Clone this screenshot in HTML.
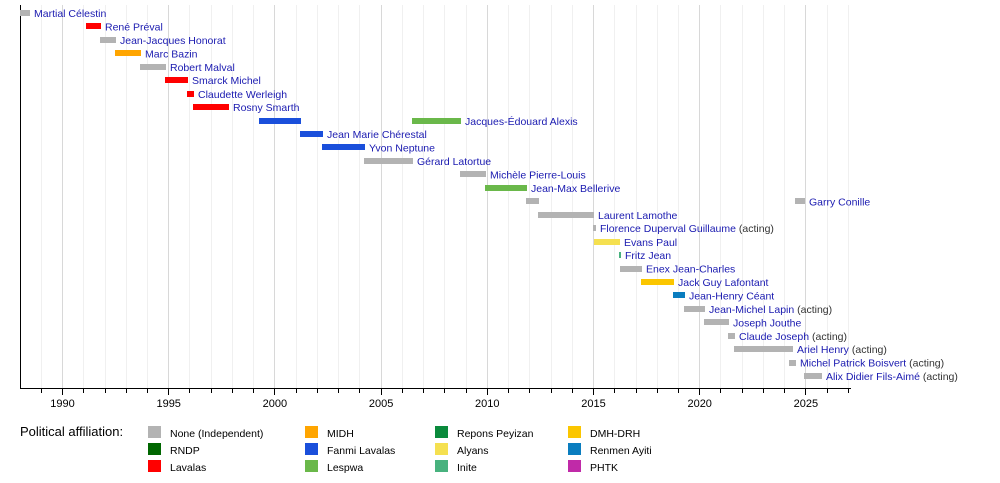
<!DOCTYPE html>
<html><head><meta charset="utf-8"><style>
body{margin:0;background:#fff;}
svg text{font-family:"Liberation Sans",sans-serif;}
</style></head><body>
<svg width="1000" height="478" xmlns="http://www.w3.org/2000/svg">
<path stroke="#f0f0f0" fill="none" d="M41.5 5V388M83.5 5V388M105.5 5V388M126.5 5V388M147.5 5V388M189.5 5V388M211.5 5V388M232.5 5V388M253.5 5V388M296.5 5V388M317.5 5V388M338.5 5V388M359.5 5V388M402.5 5V388M423.5 5V388M444.5 5V388M466.5 5V388M508.5 5V388M529.5 5V388M551.5 5V388M572.5 5V388M614.5 5V388M636.5 5V388M657.5 5V388M678.5 5V388M720.5 5V388M742.5 5V388M763.5 5V388M784.5 5V388M827.5 5V388M848.5 5V388"/>
<path stroke="#d8d8d8" fill="none" d="M62.5 5V388M168.5 5V388M274.5 5V388M381.5 5V388M487.5 5V388M593.5 5V388M699.5 5V388M805.5 5V388"/>
<path stroke="#000" fill="none" d="M41.5 389V393M83.5 389V393M105.5 389V393M126.5 389V393M147.5 389V393M189.5 389V393M211.5 389V393M232.5 389V393M253.5 389V393M296.5 389V393M317.5 389V393M338.5 389V393M359.5 389V393M402.5 389V393M423.5 389V393M444.5 389V393M466.5 389V393M508.5 389V393M529.5 389V393M551.5 389V393M572.5 389V393M614.5 389V393M636.5 389V393M657.5 389V393M678.5 389V393M720.5 389V393M742.5 389V393M763.5 389V393M784.5 389V393M827.5 389V393M848.5 389V393M62.5 389V395M168.5 389V395M274.5 389V395M381.5 389V395M487.5 389V395M593.5 389V395M699.5 389V395M805.5 389V395"/>
<line x1="20.5" y1="5" x2="20.5" y2="388" stroke="#000"/>
<line x1="20" y1="388.5" x2="851" y2="388.5" stroke="#000"/>
<g>
<rect x="20" y="10" width="10" height="6" fill="#b3b3b3"/>
<rect x="86" y="23" width="15" height="6" fill="#ff0000"/>
<rect x="100" y="37" width="16" height="6" fill="#b3b3b3"/>
<rect x="115" y="50" width="26" height="6" fill="#ffa500"/>
<rect x="140" y="64" width="26" height="6" fill="#b3b3b3"/>
<rect x="165" y="77" width="23" height="6" fill="#ff0000"/>
<rect x="187" y="91" width="7" height="6" fill="#ff0000"/>
<rect x="193" y="104" width="36" height="6" fill="#ff0000"/>
<rect x="259" y="118" width="42" height="6" fill="#1a4fdb"/>
<rect x="412" y="118" width="49" height="6" fill="#6ab84a"/>
<rect x="300" y="131" width="23" height="6" fill="#1a4fdb"/>
<rect x="322" y="144" width="43" height="6" fill="#1a4fdb"/>
<rect x="364" y="158" width="49" height="6" fill="#b3b3b3"/>
<rect x="460" y="171" width="26" height="6" fill="#b3b3b3"/>
<rect x="485" y="185" width="42" height="6" fill="#6ab84a"/>
<rect x="526" y="198" width="13" height="6" fill="#b3b3b3"/>
<rect x="795" y="198" width="10" height="6" fill="#b3b3b3"/>
<rect x="538" y="212" width="56" height="6" fill="#b3b3b3"/>
<rect x="593" y="225" width="3" height="6" fill="#b3b3b3"/>
<rect x="594" y="239" width="26" height="6" fill="#f5e050"/>
<rect x="619" y="252" width="2" height="6" fill="#48b27e"/>
<rect x="620" y="266" width="22" height="6" fill="#b3b3b3"/>
<rect x="641" y="279" width="33" height="6" fill="#fbc600"/>
<rect x="673" y="292" width="12" height="6" fill="#0a7dbf"/>
<rect x="684" y="306" width="21" height="6" fill="#b3b3b3"/>
<rect x="704" y="319" width="25" height="6" fill="#b3b3b3"/>
<rect x="728" y="333" width="7" height="6" fill="#b3b3b3"/>
<rect x="734" y="346" width="59" height="6" fill="#b3b3b3"/>
<rect x="789" y="360" width="7" height="6" fill="#b3b3b3"/>
<rect x="804" y="373" width="18" height="6" fill="#b3b3b3"/>
</g>
<g font-size="10.5" fill="#1a1ab0">
<text x="34" y="17">Martial Célestin</text>
<text x="105" y="30.5">René Préval</text>
<text x="120" y="44">Jean-Jacques Honorat</text>
<text x="145" y="57.5">Marc Bazin</text>
<text x="170" y="71">Robert Malval</text>
<text x="192" y="84">Smarck Michel</text>
<text x="198" y="98">Claudette Werleigh</text>
<text x="233" y="111">Rosny Smarth</text>
<text x="465" y="125">Jacques-Édouard Alexis</text>
<text x="327" y="138">Jean Marie Chérestal</text>
<text x="369" y="151.5">Yvon Neptune</text>
<text x="417" y="165">Gérard Latortue</text>
<text x="490" y="178.5">Michèle Pierre-Louis</text>
<text x="531" y="192">Jean-Max Bellerive</text>
<text x="809" y="205.5">Garry Conille</text>
<text x="598" y="219">Laurent Lamothe</text>
<text x="600" y="232">Florence Duperval Guillaume<tspan fill="#333"> (acting)</tspan></text>
<text x="624" y="246">Evans Paul</text>
<text x="625" y="259">Fritz Jean</text>
<text x="646" y="272.5">Enex Jean-Charles</text>
<text x="678" y="286">Jack Guy Lafontant</text>
<text x="689" y="299.5">Jean-Henry Céant</text>
<text x="709" y="313">Jean-Michel Lapin<tspan fill="#333"> (acting)</tspan></text>
<text x="733" y="326.5">Joseph Jouthe</text>
<text x="739" y="340">Claude Joseph<tspan fill="#333"> (acting)</tspan></text>
<text x="797" y="353">Ariel Henry<tspan fill="#333"> (acting)</tspan></text>
<text x="800" y="366.5">Michel Patrick Boisvert<tspan fill="#333"> (acting)</tspan></text>
<text x="826" y="380">Alix Didier Fils-Aimé<tspan fill="#333"> (acting)</tspan></text>
</g>
<g font-size="11" fill="#000" text-anchor="middle">
<text x="62.5" y="407">1990</text>
<text x="168.7" y="407">1995</text>
<text x="274.9" y="407">2000</text>
<text x="381.1" y="407">2005</text>
<text x="487.3" y="407">2010</text>
<text x="593.5" y="407">2015</text>
<text x="699.7" y="407">2020</text>
<text x="805.9" y="407">2025</text>
</g>
<text x="20" y="436" font-size="13">Political affiliation:</text>
<g font-size="10.5">
<rect x="148" y="426" width="13" height="12" fill="#b3b3b3"/><text x="170" y="437">None (Independent)</text>
<rect x="148" y="443" width="13" height="12" fill="#006600"/><text x="170" y="454">RNDP</text>
<rect x="148" y="460" width="13" height="12" fill="#ff0000"/><text x="170" y="471">Lavalas</text>
<rect x="305" y="426" width="13" height="12" fill="#ffa500"/><text x="327" y="437">MIDH</text>
<rect x="305" y="443" width="13" height="12" fill="#1a4fdb"/><text x="327" y="454">Fanmi Lavalas</text>
<rect x="305" y="460" width="13" height="12" fill="#6ab84a"/><text x="327" y="471">Lespwa</text>
<rect x="435" y="426" width="13" height="12" fill="#0a8a3c"/><text x="457" y="437">Repons Peyizan</text>
<rect x="435" y="443" width="13" height="12" fill="#f5e050"/><text x="457" y="454">Alyans</text>
<rect x="435" y="460" width="13" height="12" fill="#48b27e"/><text x="457" y="471">Inite</text>
<rect x="568" y="426" width="13" height="12" fill="#fbc600"/><text x="590" y="437">DMH-DRH</text>
<rect x="568" y="443" width="13" height="12" fill="#0a7dbf"/><text x="590" y="454">Renmen Ayiti</text>
<rect x="568" y="460" width="13" height="12" fill="#c02aa8"/><text x="590" y="471">PHTK</text>
</g>
</svg>
</body></html>
